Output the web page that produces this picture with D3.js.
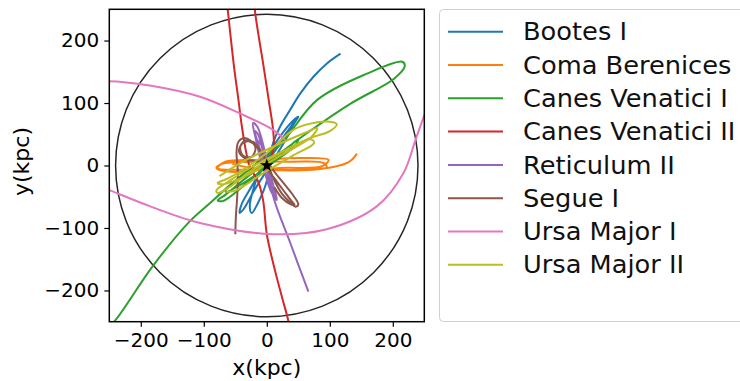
<!DOCTYPE html>
<html>
<head>
<meta charset="utf-8">
<script src="https://cdn.jsdelivr.net/npm/d3@7"></script>
<style>
  body { margin: 0; background: #fff; }
  svg { display: block; font-family: "DejaVu Sans", sans-serif; }
</style>
</head>
<body>
<svg id="chart" width="740" height="381"></svg>
<script>
// galaxy names and tab10 colours
const names = ["Bootes I", "Coma Berenices", "Canes Venatici I", "Canes Venatici II",
  "Reticulum II", "Segue I", "Ursa Major I", "Ursa Major II"];
const colors = ["#1f77b4", "#ff7f0e", "#2ca02c", "#d62728", "#9467bd", "#8c564b", "#e377c2", "#bcbd22"];
const ticks = [-200, -100, 0, 100, 200];
const circleRadius = 240;

// orbit tracks, [x, y] in kpc
const bootes = [[-10, -5], [15, 30], [38, 62], [48, 76], [44, 68], [25, 40], [0, 5], [-25, -35], [-40, -62],
  [-43, -76], [-37, -70], [-20, -40], [5, 0], [28, 38], [45, 70], [50, 78], [42, 72], [20, 45], [-5, 5],
  [-22, -40], [-27, -66], [-24, -76], [-15, -62], [0, -25], [4, 10], [10, 36], [21, 62], [37, 89],
  [53, 115], [74, 142], [95, 163], [117, 179]];
const coma = [[-55, 3], [-30, -3], [40, -8], [95, -3], [90, 4], [40, 6], [-20, 6], [-70, 3], [-80, -4],
  [-58, -10], [21, -4], [88, -1], [98, 9], [53, 12], [-11, 9], [-66, 6], [-78, -4], [-27, -7], [37, -7],
  [96, -4], [127, 4], [136, 10], [143, 19]];
const cvn1 = [[-262, -272], [-239, -246], [-181, -161], [-122, -89], [-90, -60], [-58, -31], [-19, 1],
  [21, 33], [80, 105], [159, 147], [215, 166], [219, 159], [202, 139], [133, 99], [64, 52], [21, 20],
  [-27, -15], [-66, -47], [-78, -56], [-70, -57], [-40, -35], [0, 0], [30, 25], [50, 42], [45, 32],
  [10, 5], [-40, -30], [-65, -42], [-60, -32]];
const cvn2 = [[38, -275], [34, -248], [25, -214], [11, -160], [0, -110], [-6, -55], [-14, -25], [-27, -2],
  [-38, 52], [-45, 105], [-52, 158], [-62, 249], [-66, 285], [-50, 305], [-28, 300], [-20, 270],
  [-19, 249], [-5, 158], [3, 105], [10, 57], [11, 30], [6, 12]];
const ret2 = [[-8, 0], [-18, 45], [-22, 68], [-15, 62], [0, 10], [10, -30], [16, -55], [12, -50], [0, -10],
  [-12, 30], [-19, 55], [-14, 50], [-2, 5], [8, -35], [14, -52], [6, -40], [-6, 0], [-16, 40], [-10, 35],
  [3, -5], [10, -49], [38, -126], [66, -202]];
const segue = [[-50, -110], [-49, -80], [-47, -50], [-46, -10], [-48, 22], [-45, 38], [-36, 44], [-26, 40],
  [-18, 28], [-24, 14], [-38, 16], [-42, 30], [-34, 40], [-20, 34], [-5, 15], [12, -10], [28, -30],
  [42, -48], [50, -62], [46, -66], [36, -58], [24, -45], [14, -28], [4, -5], [-8, 20], [-22, 38],
  [-38, 36], [-44, 22], [-32, 10], [-10, 5], [10, -18], [25, -38], [40, -58], [44, -63], [38, -62],
  [24, -52], [12, -35]];
const uma1 = [[29, 41], [10, 57], [-42, 83], [-106, 110], [-186, 128], [-251, 135], [-300, 130],
  [-335, 95], [-335, 20], [-300, -20], [-251, -39], [-186, -65], [-106, -92], [10, -110], [95, -102],
  [175, -65], [217, -12], [236, 41], [251, 83], [262, 112]];
const uma2 = [[-75, -17], [-40, 5], [10, 30], [60, 52], [80, 60], [70, 45], [20, 15], [-30, -15],
  [-70, -30], [-78, -28], [-60, -20], [0, 20], [42, 57], [69, 67], [100, 70], [111, 66], [100, 55],
  [69, 44], [30, 25], [-20, -5], [-60, -35], [-78, -44], [-80, -40], [-60, -25], [-20, 0], [30, 25],
  [70, 42], [75, 36], [40, 15], [-10, -15], [-50, -40], [-65, -42]];
const orbits = [bootes, coma, cvn1, cvn2, ret2, segue, uma1, uma2];

const svg = d3.select("#chart");
const plot = { left: 109.3, right: 424.3, top: 9.3, bottom: 321.7 };

const x = d3.scaleLinear().domain([-250, 250]).range([plot.left, plot.right]);
const y = d3.scaleLinear().domain([-250, 250]).range([plot.bottom, plot.top]);

svg.append("defs").append("clipPath").attr("id", "clip")
  .append("rect")
  .attr("x", plot.left).attr("y", plot.top)
  .attr("width", plot.right - plot.left).attr("height", plot.bottom - plot.top);

const g = svg.append("g").attr("clip-path", "url(#clip)");

// boundary circle
g.append("circle")
  .attr("cx", x(0)).attr("cy", y(0))
  .attr("r", x(circleRadius) - x(0))
  .attr("fill", "none")
  .attr("stroke", "#262626")
  .attr("stroke-width", 1.5);

const line = d3.line()
  .x((d) => x(d[0]))
  .y((d) => y(d[1]))
  .curve(d3.curveCatmullRom.alpha(0.5));

g.selectAll("path.orbit")
  .data(orbits)
  .join("path")
  .attr("class", "orbit")
  .attr("d", line)
  .attr("fill", "none")
  .attr("stroke", (d, i) => colors[i])
  .attr("stroke-width", 2);

// star at the centre
g.append("path")
  .attr("d", d3.symbol(d3.symbolStar, 55))
  .attr("transform", `translate(${x(0)},${y(0)})`)
  .attr("fill", "#000");

// frame
svg.append("rect")
  .attr("x", plot.left).attr("y", plot.top)
  .attr("width", plot.right - plot.left).attr("height", plot.bottom - plot.top)
  .attr("fill", "none").attr("stroke", "#000").attr("stroke-width", 1.5);

const xAxis = svg.append("g")
  .attr("transform", `translate(0,${plot.bottom})`)
  .call(d3.axisBottom(x).tickValues(ticks).tickSize(5).tickPadding(6));
const yAxis = svg.append("g")
  .attr("transform", `translate(${plot.left},0)`)
  .call(d3.axisLeft(y).tickValues(ticks).tickSize(5).tickPadding(5));

[xAxis, yAxis].forEach((a) => {
  a.select(".domain").remove();
  a.selectAll(".tick line").attr("stroke", "#000").attr("stroke-width", 1.2);
  a.selectAll(".tick text")
    .attr("fill", "#000")
    .style("font-family", "DejaVu Sans")
    .style("font-size", "20px");
});

svg.append("text")
  .attr("x", x(0)).attr("y", 375)
  .attr("text-anchor", "middle")
  .style("font-size", "22px")
  .text("x(kpc)");

svg.append("text")
  .attr("transform", `translate(29,${y(0) - 4}) rotate(-90)`)
  .attr("text-anchor", "middle")
  .style("font-size", "22px")
  .text("y(kpc)");

// legend
const legend = svg.append("g");
legend.append("rect")
  .attr("x", 439.5).attr("y", 9.5)
  .attr("width", 330).attr("height", 312)
  .attr("rx", 4)
  .attr("fill", "#fff")
  .attr("stroke", "#d0d0d0");

const rows = legend.selectAll("g.row")
  .data(names)
  .join("g")
  .attr("class", "row")
  .attr("transform", (d, i) => `translate(0,${31.7 + i * 33.3})`);

rows.append("line")
  .attr("x1", 448).attr("x2", 503)
  .attr("stroke", (d, i) => colors[i])
  .attr("stroke-width", 2);

rows.append("text")
  .attr("transform", "translate(523,0) scale(1.07,1)")
  .attr("dy", "0.36em")
  .style("font-size", "24px")
  .attr("fill", "#111")
  .text((d) => d);
</script>
</body>
</html>
